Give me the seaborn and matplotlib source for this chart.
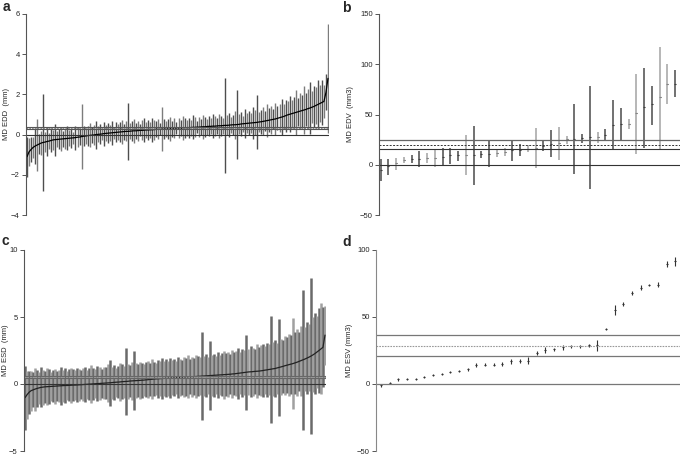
import numpy as np
import matplotlib
matplotlib.use('Agg')
import matplotlib.pyplot as plt
import seaborn as sns

sns.set_style('ticks')
plt.rcParams['font.family'] = ['Liberation Sans', 'DejaVu Sans']

# ---- panel a: MD EDD (mm), sorted study means and half-widths
edd_mean = [-1.10, -0.86, -0.74, -0.64, -0.57, -0.52, -0.47, -0.42, -0.39, -0.37,
            -0.34, -0.32, -0.29, -0.26, -0.25, -0.24, -0.23, -0.22, -0.21, -0.20,
            -0.19, -0.18, -0.17, -0.16, -0.15, -0.13, -0.12, -0.10, -0.08, -0.07,
            -0.05, -0.04, -0.03, -0.02, 0.00, 0.01, 0.02, 0.03, 0.05, 0.06,
            0.07, 0.08, 0.09, 0.10, 0.11, 0.12, 0.13, 0.14, 0.15, 0.16,
            0.16, 0.17, 0.18, 0.19, 0.19, 0.20, 0.21, 0.21, 0.22, 0.23,
            0.23, 0.24, 0.24, 0.25, 0.26, 0.26, 0.27, 0.28, 0.28, 0.29,
            0.29, 0.30, 0.30, 0.31, 0.31, 0.32, 0.32, 0.33, 0.34, 0.34,
            0.35, 0.35, 0.36, 0.36, 0.37, 0.37, 0.38, 0.39, 0.39, 0.40,
            0.41, 0.41, 0.42, 0.42, 0.43, 0.44, 0.44, 0.45, 0.46, 0.46,
            0.47, 0.48, 0.49, 0.49, 0.50, 0.51, 0.53, 0.54, 0.55, 0.56,
            0.57, 0.58, 0.59, 0.60, 0.61, 0.63, 0.64, 0.66, 0.68, 0.70,
            0.72, 0.74, 0.76, 0.78, 0.81, 0.84, 0.87, 0.90, 0.94, 0.98,
            1.01, 1.04, 1.07, 1.10, 1.13, 1.16, 1.19, 1.22, 1.25, 1.29,
            1.32, 1.36, 1.40, 1.45, 1.50, 1.55, 1.60, 1.65, 2.10, 2.80]
edd_hw = [1.0, 0.7, 0.6, 0.5, 0.9, 1.3, 0.5, 0.6, 2.4, 0.5,
          0.7, 0.4, 0.6, 0.5, 0.8, 0.4, 0.5, 0.6, 0.4, 0.5,
          0.6, 0.4, 0.5, 0.3, 0.6, 0.5, 0.4, 1.6, 0.5, 0.4,
          0.5, 0.6, 0.4, 0.5, 0.7, 0.4, 0.5, 0.3, 0.6, 0.4,
          0.5, 0.4, 0.6, 0.3, 0.5, 0.4, 0.5, 0.6, 0.4, 0.5,
          1.4, 0.4, 0.5, 0.6, 0.4, 0.5, 0.3, 0.5, 0.6, 0.4,
          0.5, 0.4, 0.6, 0.5, 0.4, 0.5, 0.3, 1.1, 0.5, 0.4,
          0.5, 0.6, 0.4, 0.5, 0.3, 0.5, 0.4, 0.6, 0.5, 0.4,
          0.5, 0.4, 0.6, 0.5, 0.3, 0.5, 0.4, 0.6, 0.5, 0.4,
          0.5, 0.4, 0.6, 0.5, 0.4, 0.6, 0.5, 0.4, 2.35, 0.5,
          0.6, 0.4, 0.5, 0.7, 1.7, 0.5, 0.6, 0.4, 0.7, 0.5,
          0.6, 0.5, 0.8, 0.6, 1.35, 0.5, 0.6, 0.7, 0.5, 0.8,
          0.6, 0.7, 0.5, 0.8, 0.6, 0.7, 0.9, 0.6, 0.8, 0.7,
          0.9, 0.7, 0.8, 1.1, 0.7, 0.9, 0.8, 1.2, 0.8, 1.0,
          1.3, 0.8, 1.0, 0.9, 1.2, 0.9, 1.1, 0.8, 0.9, 2.7]
edd_refs = [0.40, 0.33, 0.26]

# ---- panel b: MD EDV (mm3)
edv_mean = [-5, -1, 2, 4.6, 5.6, 6, 7, 7, 8, 10, 10, 10, 10, 11, 11, 12, 13, 15, 15, 16,
            17, 19, 21, 22, 25.5, 26, 27, 28, 28, 30, 40, 41, 41, 51, 57, 60, 67, 80, 80]
edv_lo = [-16, -10, -5, 2, 1.6, -2, 2, -2, -1, 1, 4, -10, -20, 7, -2, 8, 9, 4, 9, 13,
          -3, 14, 8, 5, 21, -9, 22, -24, 22, 24, 16, 25, 36, 11, 17, 40, 16, 60, 67]
edv_hi = [6, 6, 7, 8, 9.6, 14, 12, 16, 17, 17, 14, 30, 39, 14, 25, 16, 17, 25, 21, 20,
          37, 24, 35, 38, 29, 60, 31, 78, 33, 36, 64, 56, 46, 90, 96, 78, 117, 100, 94]
edv_shade = ['d', 'd', 'l', 'l', 'd', 'd', 'l', 'l', 'd', 'd', 'd', 'l', 'd', 'd', 'd', 'l',
             'l', 'd', 'd', 'l', 'l', 'd', 'd', 'l', 'l', 'd', 'd', 'd', 'l', 'd', 'd', 'd',
             'l', 'l', 'd', 'd', 'l', 'l', 'd']
edv_refs = [24.5, 19.5, 15.6]

# ---- panel c: MD ESD (mm)
esd_mean = [-1.02, -0.80, -0.62, -0.50, -0.44, -0.38, -0.33, -0.29, -0.25, -0.23,
            -0.21, -0.20, -0.19, -0.18, -0.17, -0.16, -0.15, -0.14, -0.13, -0.12,
            -0.11, -0.11, -0.10, -0.09, -0.08, -0.08, -0.07, -0.06, -0.05, -0.04,
            -0.03, -0.02, -0.01, 0.00, 0.01, 0.02, 0.03, 0.04, 0.05, 0.06,
            0.07, 0.08, 0.09, 0.10, 0.12, 0.13, 0.14, 0.15, 0.17, 0.18,
            0.19, 0.20, 0.22, 0.23, 0.24, 0.25, 0.26, 0.27, 0.28, 0.29,
            0.31, 0.32, 0.34, 0.35, 0.37, 0.38, 0.39, 0.40, 0.41, 0.42,
            0.43, 0.44, 0.45, 0.46, 0.47, 0.48, 0.49, 0.50, 0.51, 0.51,
            0.52, 0.53, 0.54, 0.54, 0.55, 0.56, 0.57, 0.58, 0.59, 0.60,
            0.61, 0.62, 0.63, 0.64, 0.65, 0.66, 0.67, 0.68, 0.69, 0.70,
            0.71, 0.72, 0.73, 0.75, 0.76, 0.78, 0.80, 0.82, 0.84, 0.86,
            0.88, 0.90, 0.91, 0.92, 0.94, 0.95, 0.96, 0.98, 1.00, 1.03,
            1.05, 1.08, 1.10, 1.13, 1.15, 1.19, 1.23, 1.27, 1.31, 1.36,
            1.40, 1.44, 1.48, 1.52, 1.57, 1.62, 1.68, 1.74, 1.80, 1.86,
            1.93, 2.00, 2.08, 2.17, 2.27, 2.38, 2.50, 2.62, 2.74, 3.65]
esd_hw = [2.4, 1.8, 1.6, 1.5, 1.3, 1.6, 1.4, 1.2, 1.5, 1.3,
          1.2, 1.4, 1.3, 1.1, 1.2, 1.3, 1.1, 1.2, 1.4, 1.2,
          1.3, 1.1, 1.2, 1.3, 1.2, 1.1, 1.3, 1.2, 1.1, 1.2,
          1.3, 1.1, 1.2, 1.4, 1.2, 1.1, 1.3, 1.2, 1.1, 1.2,
          1.2, 1.4, 1.7, 1.2, 1.3, 1.1, 1.2, 1.4, 1.3, 1.2,
          2.5, 1.3, 1.2, 1.4, 2.2, 1.3, 1.2, 1.4, 1.3, 1.2,
          1.3, 1.4, 1.2, 1.5, 1.3, 1.2, 1.4, 1.3, 1.5, 1.3,
          1.4, 1.3, 1.5, 1.3, 1.4, 1.2, 1.5, 1.4, 1.3, 1.5,
          1.4, 1.6, 1.3, 1.5, 1.4, 1.6, 1.5, 1.4, 3.3, 1.5,
          1.6, 1.4, 2.6, 1.5, 1.6, 1.4, 1.7, 1.5, 1.6, 1.8,
          1.6, 1.7, 1.5, 1.8, 1.6, 1.7, 1.9, 1.6, 1.8, 1.7,
          2.8, 1.7, 1.9, 1.8, 1.7, 2.0, 1.8, 1.9, 2.0, 1.8,
          2.0, 1.9, 4.0, 2.0, 2.1, 1.9, 3.6, 2.1, 2.0, 2.2,
          2.1, 2.3, 2.2, 3.4, 2.3, 2.5, 2.2, 2.6, 5.2, 2.4,
          2.7, 2.5, 5.8, 2.8, 3.0, 2.7, 3.2, 3.4, 3.0, 2.2]
esd_refs = [0.57, 0.50, 0.42]

# ---- panel d: MD ESV (mm3)
esv_mean = [-1, 0.7, 3.5, 3.5, 4, 5, 7, 7.5, 9, 9.5, 11, 14, 14.5, 14.5, 15, 17, 17, 17.5,
            23, 25.5, 26, 27.5, 28, 28, 29, 29, 41, 55, 60, 68, 72, 74, 74, 89.5, 91.5]
esv_hw = [1, 0.5, 1, 0.8, 0.7, 0.8, 0.7, 0.8, 0.8, 0.8, 1.2, 1.5, 1.2, 1.2, 1.5, 1.8, 1.6,
          2.3, 1.7, 2.4, 1.2, 1.8, 1.2, 1.0, 1.2, 4.1, 0.8, 3.8, 1.5, 1.5, 1.8, 0.8, 1.8,
          2.0, 3.3]
esv_refs = [36.6, 28.6, 20.9]

DARK, LIGHT = '#4a4a4a', '#a3a3a3'

fig = plt.figure(figsize=(6.85, 4.57), dpi=100)


def add_ax(l, t, r, b):
    return fig.add_axes([l / 685, 1 - b / 457, (r - l) / 685, (b - t) / 457])


def style(ax, ylim, ticks, label, labx):
    ax.set_ylim(ylim)
    ax.set_yticks(ticks)
    ax.set_xticks([])
    ax.set_xlabel('')
    for s in ['top', 'right', 'bottom']:
        ax.spines[s].set_visible(False)
    ax.spines['left'].set_color('#555555')
    ax.spines['left'].set_linewidth(0.8)
    ax.tick_params(axis='y', length=3, width=0.7, color='#555555', labelsize=5.5, pad=1.5)
    ax.set_ylabel(label, fontsize=5.5)
    ax.yaxis.set_label_coords(labx, 0.5)


def caterpillar(ax, mean, hw, lw, c1, c2, lc):
    x = np.arange(len(mean))
    m = np.array(mean)
    h = np.array(hw)
    cols = [c1 if i % 2 == 0 else c2 for i in x]
    ax.vlines(x, m - h, m + h, colors=cols, lw=lw)
    sns.lineplot(x=x, y=m, ax=ax, color=lc, lw=0.9)
    ax.set_xlim(-0.5, len(mean) - 0.5)


# a
ax_a = add_ax(26, 14, 329, 215)
caterpillar(ax_a, edd_mean, edd_hw, 1.0, '#4e4e4e', '#7c7c7c', 'black')
ax_a.axhline(0, color='#333333', lw=0.8)
ax_a.axhline(edd_refs[0], color='#555555', lw=0.8)
ax_a.axhline(edd_refs[1], color='#888888', lw=0.8, ls=(0, (1.5, 1)))
ax_a.axhline(edd_refs[2], color='#555555', lw=0.8)
style(ax_a, (-4, 6), [-4, -2, 0, 2, 4, 6], 'MD EDD  (mm)', -0.052)

# b
ax_b = add_ax(379, 14, 680, 215)
xb = np.arange(len(edv_mean))
ax_b.vlines(xb, edv_lo, edv_hi, colors=[DARK if s == 'd' else LIGHT for s in edv_shade], lw=1.1)
sns.scatterplot(x=xb, y=edv_mean, ax=ax_b, marker='_', s=2, color='#222222', linewidth=0.8)
ax_b.axhline(0, color='#333333', lw=0.8)
ax_b.axhline(edv_refs[0], color='#666666', lw=0.9)
ax_b.axhline(edv_refs[1], color='#333333', lw=0.7, ls=(0, (2, 1.5)))
ax_b.axhline(edv_refs[2], color='#333333', lw=0.8)
ax_b.set_xlim(-0.22, 38.64)
style(ax_b, (-50, 150), [-50, 0, 50, 100, 150], 'MD EDV  (mm3)', -0.083)

# c
ax_c = add_ax(24, 250, 326, 451)
caterpillar(ax_c, esd_mean, esd_hw, 1.8, '#6a6a6a', '#a0a0a0', '#222222')
ax_c.axhline(0, color='#333333', lw=0.8)
ax_c.axhline(esd_refs[0], color='#666666', lw=0.8)
ax_c.axhline(esd_refs[1], color='#999999', lw=0.8, ls=(0, (1.5, 1)))
ax_c.axhline(esd_refs[2], color='#666666', lw=0.8)
style(ax_c, (-5, 10), [-5, 0, 5, 10], 'MD ESD  (mm)', -0.050)

# d
ax_d = add_ax(376, 250, 680, 451)
xd = np.arange(len(esv_mean))
md = np.array(esv_mean)
hd = np.array(esv_hw)
ax_d.vlines(xd, md - hd, md + hd, colors='#333333', lw=0.8)
sns.scatterplot(x=xd, y=md, ax=ax_d, marker='_', s=1.5, color='#222222', linewidth=0.8)
ax_d.axhline(0, color='#777777', lw=0.9)
ax_d.axhline(esv_refs[0], color='#777777', lw=0.9)
ax_d.axhline(esv_refs[1], color='#999999', lw=0.8, ls=(0, (1.5, 1)))
ax_d.axhline(esv_refs[2], color='#777777', lw=0.9)
ax_d.set_xlim(-0.58, 34.54)
style(ax_d, (-50, 100), [-50, 0, 50, 100], 'MD ESV (mm3)', -0.076)
ax_d.spines['left'].set_color('#888888')

for lab, (x, y) in zip('abcd', [(3, 11), (342, 12), (1, 245), (342, 246)]):
    fig.text(x / 685, 1 - y / 457, lab, fontsize=10, fontweight='bold', ha='left', va='baseline')

fig.savefig('out.png', dpi=100)
